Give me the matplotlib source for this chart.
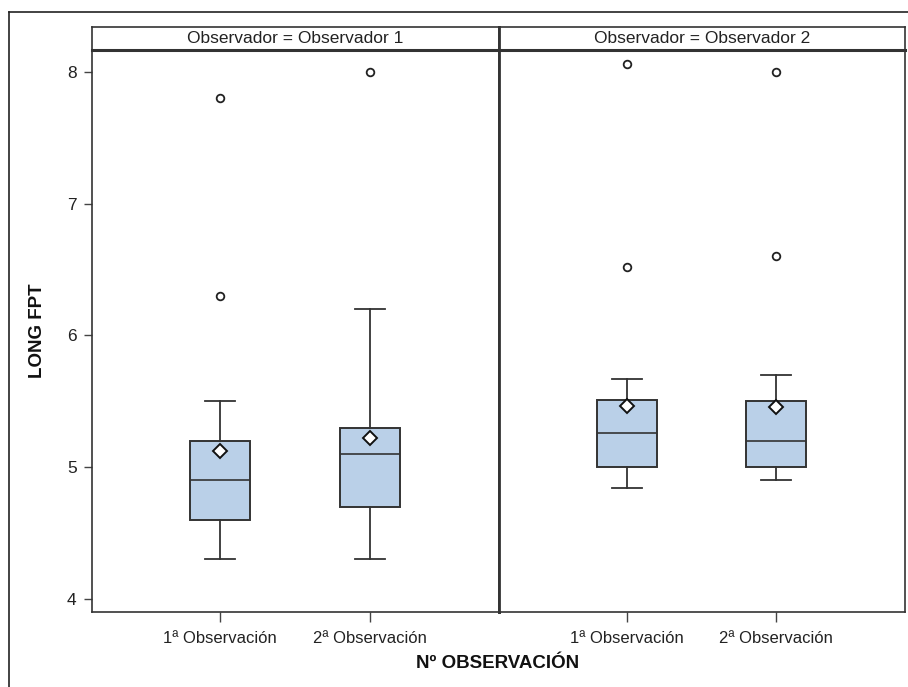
import matplotlib
matplotlib.use("Agg")
import matplotlib.pyplot as plt
from matplotlib.lines import Line2D

plt.rcParams["font.family"] = ["Liberation Sans", "DejaVu Sans"]

# ---- box statistics per observer panel ----
observers = ["Observador 1", "Observador 2"]
categories = ["1ª Observación", "2ª Observación"]

q1 = [[4.6, 4.7], [5.0, 5.0]]
med = [[4.9, 5.1], [5.26, 5.2]]
q3 = [[5.2, 5.3], [5.51, 5.5]]
whislo = [[4.3, 4.3], [4.84, 4.9]]
whishi = [[5.5, 6.2], [5.67, 5.7]]
means = [[5.12, 5.22], [5.465, 5.455]]
outliers = [[[6.3, 7.8], [8.0]], [[6.52, 8.06], [6.6, 8.0]]]

W, H = 908, 687
fig = plt.figure(figsize=(W / 100, H / 100), dpi=100)

def fx(px):
    return px / W

def fy(py):
    return 1 - py / H

# outer frame (left and top edges only)
fig.add_artist(Line2D([fx(9), fx(9)], [fy(12), 0], color="#222222", lw=1.2))
fig.add_artist(Line2D([fx(9), 1], [fy(12), fy(12)], color="#222222", lw=1.2))

panels = [(92, 499), (499, 905)]
top, bottom, strip_top = 50, 612, 27
box_color = "#BAD0E8"
edge = "#333333"

axes = []
for p, (x0, x1) in enumerate(panels):
    ax = fig.add_axes([fx(x0), fy(bottom), fx(x1) - fx(x0), fy(top) - fy(bottom)])
    stats = []
    for i in range(2):
        stats.append(dict(med=med[p][i], q1=q1[p][i], q3=q3[p][i],
                          whislo=whislo[p][i], whishi=whishi[p][i],
                          mean=means[p][i], fliers=outliers[p][i]))
    ax.bxp(stats, positions=[1, 2], widths=0.4, capwidths=0.2,
           showmeans=True, patch_artist=True,
           boxprops=dict(facecolor=box_color, edgecolor=edge, linewidth=1.4),
           medianprops=dict(color=edge, linewidth=1.2),
           whiskerprops=dict(color=edge, linewidth=1.3),
           capprops=dict(color=edge, linewidth=1.3),
           meanprops=dict(marker="D", markerfacecolor="white", markeredgecolor="#111111",
                          markeredgewidth=1.4, markersize=7.5),
           flierprops=dict(marker="o", markerfacecolor="white", markeredgecolor="#222222",
                           markeredgewidth=1.3, markersize=5.5))
    ax.set_xlim(0.147, 2.86)
    ax.set_ylim(3.901, 8.167)
    ax.set_xticks([1, 2])
    ax.set_xticklabels(categories, fontsize=12, color="#222222")
    ax.tick_params(axis="x", length=7, width=1, color="#444444", pad=7)
    for s in ax.spines.values():
        s.set_color("#333333")
        s.set_linewidth(1.2)
    if p == 0:
        ax.set_yticks([4, 5, 6, 7, 8])
        ax.tick_params(axis="y", length=6, width=1, color="#444444", labelsize=12.5,
                       labelcolor="#222222", pad=5)
        ax.spines["right"].set_linewidth(2)
    else:
        ax.set_yticks([])
        ax.spines["left"].set_linewidth(2)
    axes.append(ax)

    # strip header
    sax = fig.add_axes([fx(x0), fy(top), fx(x1) - fx(x0), fy(strip_top) - fy(top)])
    sax.set_xticks([])
    sax.set_yticks([])
    for s in sax.spines.values():
        s.set_color("#333333")
        s.set_linewidth(1.2)
    sax.spines["bottom"].set_linewidth(2.2)
    if p == 0:
        sax.spines["right"].set_linewidth(2)
    else:
        sax.spines["left"].set_linewidth(2)
    sax.text(0.5, 0.5, f"Observador = {observers[p]}", ha="center", va="center",
             fontsize=12.5, color="#222222", transform=sax.transAxes)

fig.text(fx(37), fy(331), "LONG FPT", rotation=90, ha="center", va="center",
         fontsize=13.5, fontweight="bold", color="#111111")
fig.text(fx(498), fy(663), "Nº OBSERVACIÓN", ha="center", va="center",
         fontsize=13.5, fontweight="bold", color="#111111")

fig.savefig("out.png", dpi=100)
